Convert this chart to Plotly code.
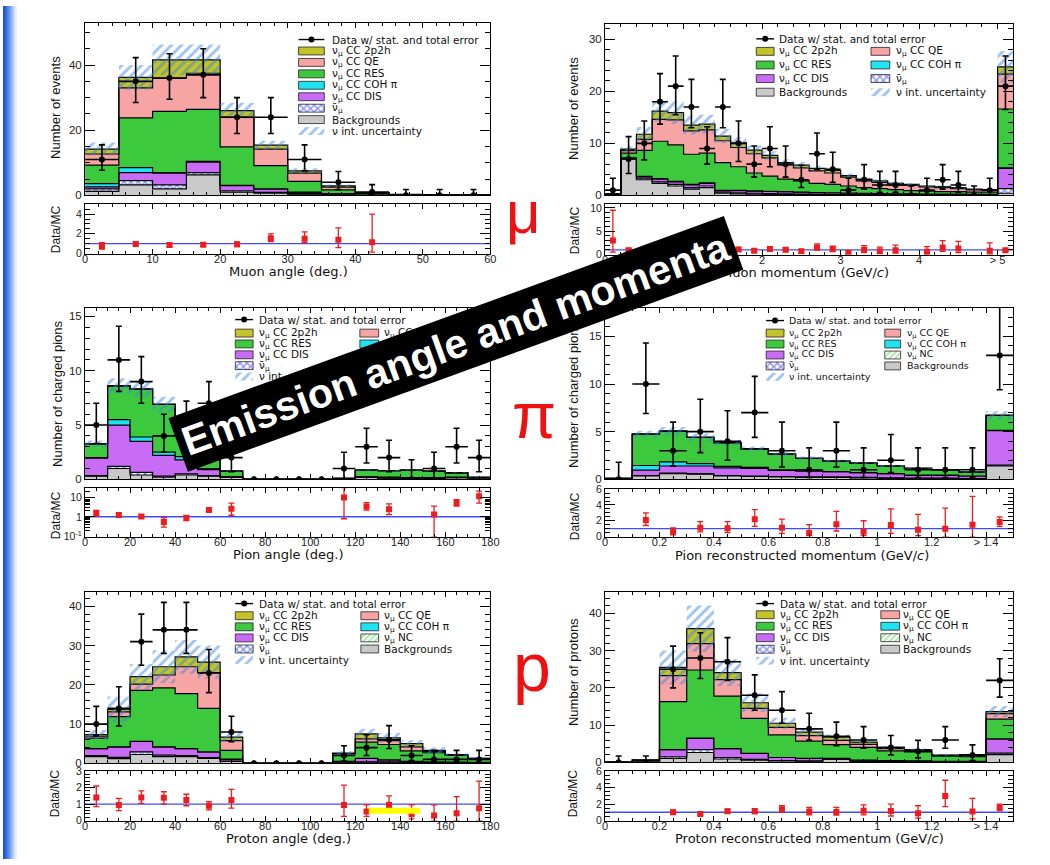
import plotly.graph_objects as go

W, H = 1050, 865

# ====================== DATA ======================
# ---- Panel 1: muon angle (deg.) ----
MUANG_EDGES = [0, 5, 10, 15, 20, 25, 30, 35, 40, 45, 50, 55, 60]
MUANG_BKG  = [1.2, 3.2, 2.0, 6.3, 1.0, 0.7, 0.4, 0.1, 0.05, 0, 0, 0]
MUANG_ANU  = [0.8, 1.3, 1.2, 0.7, 0.4, 0.2, 0.1, 0.05, 0, 0, 0, 0]
MUANG_DIS  = [0.6, 2.5, 3.6, 3.2, 1.6, 1.1, 0.5, 0.35, 0.05, 0.05, 0, 0]
MUANG_COH  = [1.0, 1.5, 0.2, 0.2, 0.1, 0, 0, 0, 0, 0, 0, 0]
MUANG_RES  = [5.7, 15.3, 18.8, 16.0, 11.8, 7.1, 3.3, 1.2, 0.4, 0.1, 0.05, 0.02]
MUANG_QE   = [3.4, 9.2, 10.2, 11.1, 9.1, 5.1, 2.5, 0.8, 0.25, 0.1, 0.05, 0.03]
MUANG_2P2H = [1.5, 3.2, 5.6, 4.1, 2.0, 1.2, 0.7, 0.4, 0.1, 0.05, 0.02, 0.01]
MUANG_UNC  = [2.0, 3.8, 4.7, 4.7, 2.4, 1.4, 0.8, 0.4, 0.1, 0.05, 0.02, 0.01]
MUANG_DATA = [11, 35, 36, 37, 24, 24, 11, 4, 1, 0, 0, 0]
MUANG_DLO  = [7.7, 28.5, 29.5, 30, 19, 19, 7.5, 1.8, 0, 0, 0, 0]
MUANG_DHI  = [15.5, 42.3, 43.5, 45, 30, 30, 15.5, 7.3, 3.3, 1.8, 1.8, 1.8]
MUANG_RAT  = [0.75, 0.97, 0.87, 0.9, 0.93, 1.55, 1.5, 1.4, 1.15, None, None, None]
MUANG_RLO  = [0.45, 0.75, 0.7, 0.72, 0.7, 1.2, 1.1, 0.6, 0.15, None, None, None]
MUANG_RHI  = [1.1, 1.2, 1.05, 1.1, 1.15, 2.0, 2.2, 2.6, 4.0, None, None, None]

# ---- Panel 2: muon momentum (GeV/c), last bin = overflow ----
MUMOM_EDGES = [0, 0.2, 0.4, 0.6, 0.8, 1.0, 1.2, 1.4, 1.6, 1.8, 2.0, 2.2, 2.4, 2.6,
               2.8, 3.0, 3.2, 3.4, 3.6, 3.8, 4.0, 4.2, 4.4, 4.6, 4.8, 5.0, 5.2]
MUMOM_BKG  = [0.1, 7.0, 3.0, 2.3, 1.8, 1.2, 1.5, 0.4, 0.3, 0.25, 0.2, 0.2, 0.15, 0.15,
              0.1, 0.1, 0.1, 0.1, 0.05, 0.05, 0.05, 0.05, 0.05, 0.05, 0.05, 0.4]
MUMOM_ANU  = [0.05, 0.1, 0.3, 0.3, 0.3, 0.3, 0.3, 0.2, 0.2, 0.15, 0.15, 0.1, 0.1, 0.1,
              0.1, 0.1, 0.05, 0.05, 0.05, 0.05, 0.05, 0.05, 0.05, 0.05, 0.05, 0.9]
MUMOM_DIS  = [0.05, 0.1, 0.3, 0.5, 0.5, 0.5, 0.5, 0.3, 0.4, 0.4, 0.4, 0.4, 0.35, 0.3,
              0.3, 0.25, 0.25, 0.2, 0.2, 0.2, 0.15, 0.15, 0.15, 0.1, 0.1, 3.9]
MUMOM_COH  = [0, 0, 0.05, 0.1, 0.1, 0.1, 0.1, 0.05, 0.05, 0.05, 0, 0, 0, 0,
              0, 0, 0, 0, 0, 0, 0, 0, 0, 0, 0, 0.1]
MUMOM_RES  = [0.1, 0.9, 5.0, 7.2, 7.0, 5.8, 5.7, 5.35, 4.55, 3.45, 2.95, 2.4, 2.2, 1.75,
              1.6, 1.35, 1.1, 0.95, 0.8, 0.6, 0.55, 0.45, 0.45, 0.4, 0.4, 11.3]
MUMOM_QE   = [0.03, 0.5, 2.1, 4.2, 4.8, 4.5, 4.5, 4.2, 3.7, 3.7, 3.5, 2.7, 2.5, 2.4,
              2.2, 1.7, 1.3, 1.2, 0.9, 1.0, 0.8, 0.8, 0.6, 0.45, 0.4, 6.7]
MUMOM_2P2H = [0.02, 0.3, 1.0, 1.6, 1.4, 1.1, 1.1, 0.9, 0.9, 0.7, 0.5, 0.5, 0.5, 0.5,
              0.5, 0.3, 0.3, 0.3, 0.3, 0.2, 0.2, 0.2, 0.2, 0.15, 0.1, 1.4]
MUMOM_UNC  = [0.05, 0.5, 1.4, 2.0, 2.2, 1.8, 1.8, 1.4, 1.1, 0.9, 0.8, 0.7, 0.6, 0.5,
              0.5, 0.4, 0.35, 0.3, 0.25, 0.25, 0.2, 0.2, 0.2, 0.15, 0.15, 3.0]
MUMOM_DATA = [1, 7, 10, 18, 21, 17, 9, 17, 10, 6, 9, 6, 3, 8, 5, 1, 3, 2, 2, 0, 1, 3, 2, 0, 1, 21]
MUMOM_DLO  = [0, 4.2, 6.8, 13.7, 15.5, 13, 6, 13, 6.5, 3.5, 5.5, 3.5, 1.5, 5, 2.5, 0, 1.2,
              0.6, 0.6, 0, 0, 1.2, 0.6, 0, 0, 16.5]
MUMOM_DHI  = [3.3, 11.3, 14.3, 23.4, 26.8, 22.3, 13.2, 22.3, 14.3, 9.5, 13.2, 9.5, 5.8, 12,
              8.3, 3.3, 5.9, 4.6, 4.6, 1.8, 3.3, 5.9, 4.6, 1.8, 3.3, 26.8]
MUMOM_RAT  = [3.0, 0.9, 0.9, 1.1, 1.3, 1.25, 0.65, 1.5, 1.1, 0.8, 1.2, 1.0, 0.7, 1.5, 1.2,
              0.3, 1.0, 0.7, 0.9, None, 0.6, 1.5, 1.3, None, 0.8, 0.9]
MUMOM_RLO  = [0.5, 0.55, 0.6, 0.8, 0.95, 0.9, 0.45, 1.1, 0.7, 0.5, 0.75, 0.6, 0.3, 0.95, 0.65,
              0.05, 0.4, 0.2, 0.3, None, 0.05, 0.7, 0.4, None, 0.05, 0.7]
MUMOM_RHI  = [9.5, 1.3, 1.3, 1.4, 1.7, 1.6, 0.95, 2.0, 1.5, 1.1, 1.6, 1.4, 1.1, 2.3, 1.8,
              0.9, 1.9, 1.6, 2.0, None, 1.7, 3.0, 2.8, None, 2.5, 1.1]

# ---- Panel 3: pion angle (deg.) ----
PIANG_EDGES = [0, 10, 20, 30, 40, 50, 60, 70, 80, 90, 100, 110, 120, 130, 140, 150, 160, 170, 180]
PIANG_BKG  = [0.3, 1.0, 0.4, 0.2, 0.4, 0.3, 0.2, 0, 0, 0, 0, 0.02, 0.2, 0.1, 0.1, 0.1, 0.15, 0.05]
PIANG_ANU  = [0.05, 0.2, 0.25, 0.1, 0.1, 0.05, 0, 0, 0, 0, 0, 0, 0, 0, 0, 0, 0, 0]
PIANG_DIS  = [1.6, 3.8, 2.85, 1.9, 1.3, 0.55, 0.05, 0, 0, 0, 0, 0, 0.05, 0.1, 0.05, 0.05, 0.05, 0]
PIANG_COH  = [0.05, 0.5, 0.4, 0.3, 0.3, 0.1, 0, 0, 0, 0, 0, 0, 0, 0, 0, 0, 0, 0]
PIANG_RES  = [1.27, 3.1, 4.4, 4.4, 3.2, 2.2, 0.5, 0, 0, 0, 0, 0.08, 0.6, 0.6, 0.7, 0.6, 0.4, 0.13]
PIANG_QE   = [0] * 18
PIANG_2P2H = [0] * 18
PIANG_UNC  = [0.3, 0.7, 0.7, 0.7, 0.5, 0.3, 0.05, 0, 0, 0, 0, 0.01, 0.05, 0.05, 0.05, 0.05, 0.05, 0.02]
PIANG_DATA = [5, 11, 9, 4, 5, 7, 2, 0, 0, 0, 0, 1, 3, 2, 0, 1, 3, 2]
PIANG_DLO  = [3.3, 8.1, 7.0, 2.5, 2.6, 4.4, 0.7, 0, 0, 0, 0, 0, 1.5, 0.7, 0, 0, 1.5, 0.7]
PIANG_DHI  = [7.0, 14.1, 11.3, 6.0, 7.2, 9.0, 3.9, 0, 0, 0, 0, 2.5, 4.7, 3.6, 1.8, 2.5, 4.7, 3.6]
PIANG_RAT  = [1.5, 1.25, 1.05, 0.55, 0.9, 2.2, 2.6, None, None, None, None, 9.5, 3.3, 2.4, None, 1.3, 5.0, 11.0]
PIANG_RLO  = [1.1, 1.0, 0.85, 0.3, 0.65, 1.8, 1.2, None, None, None, None, 0.8, 2.2, 1.3, None, 0.1, 3.5, 5.0]
PIANG_RHI  = [2.1, 1.5, 1.25, 0.9, 1.15, 2.6, 5.0, None, None, None, None, 30, 5.3, 4.5, None, 3.5, 7.5, 20]

# ---- Panel 4: pion reconstructed momentum (GeV/c), last bin = overflow ----
PIMOM_EDGES = [0, 0.1, 0.2, 0.3, 0.4, 0.5, 0.6, 0.7, 0.8, 0.9, 1.0, 1.1, 1.2, 1.3, 1.4, 1.5]
PIMOM_BKG  = [0, 0.35, 0.6, 0.55, 0.35, 0.3, 0.25, 0.2, 0.2, 0.15, 0.1, 0.1, 0.1, 0.05, 1.4]
PIMOM_ANU  = [0, 0.05, 0.05, 0.05, 0.05, 0.05, 0.05, 0.05, 0.05, 0.05, 0.05, 0.02, 0.02, 0.02, 0.1]
PIMOM_DIS  = [0, 0.57, 0.75, 0.8, 0.8, 0.8, 0.65, 0.6, 0.55, 0.5, 0.45, 0.33, 0.33, 0.28, 3.6]
PIMOM_COH  = [0, 0.48, 0.43, 0.25, 0.15, 0.1, 0.05, 0.05, 0, 0, 0, 0, 0, 0, 0.05]
PIMOM_RES  = [0.1, 3.3, 3.22, 2.75, 2.5, 1.95, 1.65, 1.3, 1.1, 1.0, 0.8, 0.7, 0.55, 0.4, 1.55]
PIMOM_QE   = [0] * 15
PIMOM_2P2H = [0] * 15
PIMOM_UNC  = [0.02, 0.35, 0.45, 0.4, 0.3, 0.25, 0.2, 0.2, 0.15, 0.1, 0.1, 0.08, 0.08, 0.06, 0.45]
PIMOM_DATA = [0, 10, 3, 5, 4, 7, 3, 1, 3, 1, 2, 1, 1, 1, 13]
PIMOM_DLO  = [0, 6.9, 1.4, 2.8, 2.0, 4.4, 1.3, 0.2, 1.3, 0.2, 0.7, 0.2, 0.2, 0.2, 9.4]
PIMOM_DHI  = [1.8, 14.3, 6.0, 8.4, 7.2, 10.8, 6.0, 3.3, 6.0, 3.3, 4.7, 3.3, 3.3, 3.3, 18.5]
PIMOM_RAT  = [None, 2.1, 0.6, 1.1, 1.05, 2.2, 1.1, 0.45, 1.55, 0.6, 1.45, 0.85, 1.0, 1.5, 1.85]
PIMOM_RLO  = [None, 1.4, 0.2, 0.6, 0.5, 1.3, 0.4, 0.1, 0.7, 0.1, 0.4, 0.1, 0.0, 0.0, 1.3]
PIMOM_RHI  = [None, 3.0, 1.1, 1.9, 1.9, 3.4, 2.2, 1.5, 3.2, 2.0, 3.5, 2.8, 3.6, 5.1, 2.5]

# ---- Panel 5: proton angle (deg.) ----
PRANG_EDGES = [0, 10, 20, 30, 40, 50, 60, 70, 80, 90, 100, 110, 120, 130, 140, 150, 160, 170, 180]
PRANG_BKG  = [1.7, 1.2, 2.25, 1.7, 1.7, 1.25, 0.5, 0, 0, 0, 0, 0.3, 0.3, 0.3, 0.2, 0.1, 0.1, 0.1]
PRANG_ANU  = [0.3, 0.3, 0.65, 0.4, 0.3, 0.2, 0.1, 0, 0, 0, 0, 0, 0.1, 0.05, 0.05, 0.05, 0.05, 0.05]
PRANG_DIS  = [1.75, 2.7, 2.7, 2.1, 1.75, 1.45, 0.5, 0, 0, 0, 0, 0.2, 0.85, 0.55, 0.25, 0.2, 0.15, 0.1]
PRANG_COH  = [0] * 18
PRANG_RES  = [2.65, 7.7, 13.0, 15.0, 14.0, 11.1, 2.2, 0, 0, 0, 0, 2.0, 4.15, 3.9, 2.7, 2.35, 1.7, 0.95]
PRANG_QE   = [0.5, 1.2, 1.6, 3.3, 6.85, 9.1, 2.5, 0, 0, 0, 0, 0, 0.85, 1.0, 1.0, 0.3, 0.1, 0.05]
PRANG_2P2H = [0.4, 0.65, 1.9, 2.1, 2.5, 2.7, 0.9, 0, 0, 0, 0, 0.1, 1.25, 0.7, 0.8, 0.3, 0.1, 0.05]
PRANG_UNC  = [1.2, 3.3, 3.2, 4.2, 4.3, 4.2, 1.2, 0, 0, 0, 0, 0.5, 1.3, 1.2, 0.9, 0.8, 0.4, 0.2]
PRANG_DATA = [10, 14, 31, 34, 34, 23, 8, 0, 0, 0, 0, 2, 4, 6, 2, 1, 1, 1]
PRANG_DLO  = [7, 9.5, 25, 28, 28, 18, 5.5, 0, 0, 0, 0, 0.6, 2.0, 3.8, 0.7, 0.2, 0.2, 0.2]
PRANG_DHI  = [14.5, 19.5, 38, 41, 41, 29, 12, 0, 0, 0, 0, 4.5, 7.3, 9.6, 4.5, 3.3, 3.3, 3.3]
PRANG_RAT  = [1.4, 0.95, 1.4, 1.38, 1.25, 0.9, 1.25, None, None, None, None, 0.95, 0.55, 0.95, 0.4, 0.3, 0.45, 0.75]
PRANG_RLO  = [0.85, 0.6, 1.05, 1.0, 0.9, 0.65, 0.75, None, None, None, None, 0.25, 0.25, 0.55, 0.1, 0.0, 0.0, 0.0]
PRANG_RHI  = [2.1, 1.35, 1.8, 1.75, 1.6, 1.15, 1.9, None, None, None, None, 2.15, 0.95, 1.5, 0.95, 0.95, 1.45, 2.4]

# ---- Panel 6: proton reconstructed momentum (GeV/c), last bin = overflow ----
PRMOM_EDGES = [0, 0.1, 0.2, 0.3, 0.4, 0.5, 0.6, 0.7, 0.8, 0.9, 1.0, 1.1, 1.2, 1.3, 1.4, 1.5]
PRMOM_BKG  = [0, 0, 1.05, 2.65, 0.9, 0.6, 0.4, 0.3, 0.8, 0.2, 0.15, 0.1, 0.1, 0.1, 2.1]
PRMOM_ANU  = [0, 0, 0.45, 0.75, 0.4, 0.2, 0.1, 0.1, 0.05, 0.05, 0.05, 0.05, 0.05, 0.05, 0.4]
PRMOM_DIS  = [0, 0.05, 1.9, 3.1, 2.4, 1.6, 0.8, 0.65, 0.2, 0.35, 0.3, 0.25, 0.15, 0.15, 3.8]
PRMOM_COH  = [0] * 15
PRMOM_RES  = [0, 0.55, 12.9, 18.3, 14.1, 9.4, 6.1, 4.65, 3.7, 3.4, 2.6, 2.4, 1.4, 1.2, 5.3]
PRMOM_QE   = [0, 0, 7.0, 7.1, 4.4, 2.7, 2.0, 1.5, 1.15, 0.85, 0.6, 0.4, 0.15, 0.2, 1.5]
PRMOM_2P2H = [0, 0, 2.2, 4.0, 1.9, 1.5, 1.1, 0.9, 0.9, 0.6, 0.3, 0.2, 0.1, 0.1, 0.5]
PRMOM_UNC  = [0, 0.05, 4.5, 6.2, 3.6, 2.5, 1.5, 1.1, 0.7, 0.6, 0.4, 0.3, 0.2, 0.2, 1.5]
PRMOM_DATA = [0, 0, 25, 28, 27, 18, 14, 9, 7, 6, 4, 3, 6, 2, 22]
PRMOM_DLO  = [0, 0, 20, 22.5, 22, 14, 10.5, 6, 4.5, 3.8, 2, 1.2, 3.8, 0.5, 17.5]
PRMOM_DHI  = [1.7, 1.7, 31.2, 34.8, 33.5, 23.5, 19, 13.2, 10.8, 9.6, 7.2, 5.9, 9.6, 4.7, 27.8]
PRMOM_RAT  = [None, None, 1.0, 0.8, 1.12, 1.12, 1.35, 1.1, 1.05, 1.2, 1.15, 0.9, 3.0, 1.1, 1.6]
PRMOM_RLO  = [None, None, 0.75, 0.65, 0.9, 0.85, 1.0, 0.7, 0.65, 0.7, 0.55, 0.3, 1.7, 0.2, 1.2]
PRMOM_RHI  = [None, None, 1.25, 0.95, 1.4, 1.45, 1.8, 1.6, 1.6, 1.9, 2.0, 1.8, 4.9, 2.7, 2.0]

# ================== table built from the arrays ==================
PANELS = [
    dict(edges=MUANG_EDGES, comps=[MUANG_BKG, MUANG_ANU, MUANG_DIS, MUANG_COH, MUANG_RES, MUANG_QE, MUANG_2P2H],
         unc=MUANG_UNC, data=MUANG_DATA, dlo=MUANG_DLO, dhi=MUANG_DHI, rat=MUANG_RAT, rlo=MUANG_RLO, rhi=MUANG_RHI),
    dict(edges=MUMOM_EDGES, comps=[MUMOM_BKG, MUMOM_ANU, MUMOM_DIS, MUMOM_COH, MUMOM_RES, MUMOM_QE, MUMOM_2P2H],
         unc=MUMOM_UNC, data=MUMOM_DATA, dlo=MUMOM_DLO, dhi=MUMOM_DHI, rat=MUMOM_RAT, rlo=MUMOM_RLO, rhi=MUMOM_RHI),
    dict(edges=PIANG_EDGES, comps=[PIANG_BKG, PIANG_ANU, PIANG_DIS, PIANG_COH, PIANG_RES, PIANG_QE, PIANG_2P2H],
         unc=PIANG_UNC, data=PIANG_DATA, dlo=PIANG_DLO, dhi=PIANG_DHI, rat=PIANG_RAT, rlo=PIANG_RLO, rhi=PIANG_RHI),
    dict(edges=PIMOM_EDGES, comps=[PIMOM_BKG, PIMOM_ANU, PIMOM_DIS, PIMOM_COH, PIMOM_RES, PIMOM_QE, PIMOM_2P2H],
         unc=PIMOM_UNC, data=PIMOM_DATA, dlo=PIMOM_DLO, dhi=PIMOM_DHI, rat=PIMOM_RAT, rlo=PIMOM_RLO, rhi=PIMOM_RHI),
    dict(edges=PRANG_EDGES, comps=[PRANG_BKG, PRANG_ANU, PRANG_DIS, PRANG_COH, PRANG_RES, PRANG_QE, PRANG_2P2H],
         unc=PRANG_UNC, data=PRANG_DATA, dlo=PRANG_DLO, dhi=PRANG_DHI, rat=PRANG_RAT, rlo=PRANG_RLO, rhi=PRANG_RHI),
    dict(edges=PRMOM_EDGES, comps=[PRMOM_BKG, PRMOM_ANU, PRMOM_DIS, PRMOM_COH, PRMOM_RES, PRMOM_QE, PRMOM_2P2H],
         unc=PRMOM_UNC, data=PRMOM_DATA, dlo=PRMOM_DLO, dhi=PRMOM_DHI, rat=PRMOM_RAT, rlo=PRMOM_RLO, rhi=PRMOM_RHI),
]

MOM_TICKS = [0, 0.2, 0.4, 0.6, 0.8, 1.0, 1.2, 1.4]
MOM_TEXT = ["0", "0.2", "0.4", "0.6", "0.8", "1", "1.2", "> 1.4"]

# ================== layout specs (pixel frames) ==================
SPEC = [
    dict(main=(83, 493, 17, 192), rat=(83, 493, 201, 251), xr=[0, 60], yr=[0, 53], rr=[0, 5],
         xdt=10, xmin=2, ydt=20, ymin=5, rdt=2, rmin=0.5, log=False, xt=None),
    dict(main=(609, 1022, 18, 192), rat=(609, 1022, 201, 252), xr=[0, 5.2], yr=[0, 33], rr=[0, 10.8],
         xdt=1, xmin=0.2, ydt=10, ymin=2, rdt=5, rmin=1, log=False,
         xt=([0, 1, 2, 3, 4, 5], ["0", "1", "2", "3", "4", "> 5"])),
    dict(main=(83, 493, 306, 480), rat=(83, 493, 489, 538), xr=[0, 180], yr=[0, 15.8], rr=[-1, 1.45],
         xdt=20, xmin=5, ydt=5, ymin=1, rdt=None, rmin=None, log=True, xt=None),
    dict(main=(609, 1022, 306, 480), rat=(609, 1022, 490, 538), xr=[0, 1.5], yr=[0, 18], rr=[0, 6],
         xdt=0.2, xmin=0.05, ydt=5, ymin=1, rdt=2, rmin=0.5, log=False, xt=(MOM_TICKS, MOM_TEXT)),
    dict(main=(83, 493, 594, 768), rat=(83, 493, 776, 826), xr=[0, 180], yr=[0, 43.7], rr=[0, 3],
         xdt=20, xmin=5, ydt=10, ymin=2, rdt=1, rmin=0.2, log=False, xt=None),
    dict(main=(609, 1022, 594, 767), rat=(609, 1022, 776, 826), xr=[0, 1.5], yr=[0, 45.8], rr=[0, 6],
         xdt=0.2, xmin=0.05, ydt=10, ymin=2, rdt=2, rmin=0.5, log=False, xt=(MOM_TICKS, MOM_TEXT)),
]

TICKFONT = "Liberation Sans, Arial, sans-serif"
TEXTFONT = "DejaVu Sans, Liberation Sans, sans-serif"
YTFONT = "Liberation Sans Narrow, Liberation Sans, Arial, sans-serif"

COLORS = dict(bkg="#c9c9c9", anu="white", dis="#c86cf5", coh="#1fe3f0",
              res="#3dc93d", qe="#f7a4a4", p2h="#c3c32a", nc="#b6e8b6")
ANU_PAT = dict(shape="x", fgcolor="#1f2ff5", bgcolor="white", size=5, solidity=0.5)
UNC_PAT = dict(shape="/", fgcolor="#3d85e0", bgcolor="rgba(0,0,0,0)", size=7, solidity=0.42)
NC_PAT = dict(shape="/", fgcolor="#3dc93d", bgcolor="white", size=4, solidity=0.4)
LAYER_KEYS = ["bkg", "anu", "dis", "coh", "res", "qe", "p2h"]


def dom_x(x0, x1):
    return [x0 / W, x1 / W]


def dom_y(y0, y1):
    return [1 - y1 / H, 1 - y0 / H]


def axname(n, kind):
    return kind if n == 1 else f"{kind}{n}"


fig = go.Figure()
layout = {}

for i, (P, S) in enumerate(zip(PANELS, SPEC)):
    m = i + 1
    r = i + 7
    xa, ya = axname(m, "x"), axname(m, "y")
    rxa, rya = axname(r, "x"), axname(r, "y")
    edges = P["edges"]
    nb = len(edges) - 1
    centers = [(edges[k] + edges[k + 1]) / 2 for k in range(nb)]
    halfw = [(edges[k + 1] - edges[k]) / 2 for k in range(nb)]

    # stacked step histogram
    cum = [0.0] * nb
    for k, comp in enumerate(P["comps"]):
        cum = [c + v for c, v in zip(cum, comp)]
        key = LAYER_KEYS[k]
        kw = dict(fillcolor=COLORS[key])
        if key == "anu":
            kw["fillpattern"] = ANU_PAT
        fig.add_trace(go.Scatter(
            x=edges, y=cum + [cum[-1]], mode="lines",
            line=dict(color="black", width=1.2, shape="hv"),
            fill="tozeroy" if k == 0 else "tonexty",
            xaxis=xa, yaxis=ya, showlegend=False, hoverinfo="skip", **kw))
    total = cum
    blo = [max(t - u, 0) for t, u in zip(total, P["unc"])]
    bhi = [t + u for t, u in zip(total, P["unc"])]
    fig.add_trace(go.Scatter(x=edges, y=blo + [blo[-1]], mode="lines",
                             line=dict(width=0, shape="hv", color="rgba(0,0,0,0)"),
                             xaxis=xa, yaxis=ya, showlegend=False, hoverinfo="skip"))
    fig.add_trace(go.Scatter(x=edges, y=bhi + [bhi[-1]], mode="lines",
                             line=dict(width=0, shape="hv", color="rgba(0,0,0,0)"),
                             fill="tonexty", fillcolor="rgba(0,0,0,0)", fillpattern=UNC_PAT,
                             xaxis=xa, yaxis=ya, showlegend=False, hoverinfo="skip"))

    # data points
    d = P["data"]
    eup = [h - v for h, v in zip(P["dhi"], d)]
    edn = [v - l for v, l in zip(d, P["dlo"])]
    exw = [hw if h > 0 else 0 for hw, h in zip(halfw, P["dhi"])]
    fig.add_trace(go.Scatter(
        x=centers, y=d, mode="markers", marker=dict(color="black", size=6),
        error_y=dict(type="data", symmetric=False, array=eup, arrayminus=edn,
                     color="black", thickness=1.6, width=3),
        error_x=dict(type="data", array=exw, color="black", thickness=1.6, width=0),
        xaxis=xa, yaxis=ya, showlegend=False, hoverinfo="skip", cliponaxis=True))

    # ratio
    rx, ry, rup, rdn = [], [], [], []
    for c, v, lo, hi in zip(centers, P["rat"], P["rlo"], P["rhi"]):
        if v is None:
            continue
        rx.append(c)
        ry.append(v)
        rup.append(hi - v)
        rdn.append(v - lo)
    fig.add_trace(go.Scatter(x=[edges[0], edges[-1]], y=[1, 1], mode="lines",
                             line=dict(color="#3b4cff", width=1.4),
                             xaxis=rxa, yaxis=rya, showlegend=False, hoverinfo="skip"))
    fig.add_trace(go.Scatter(
        x=rx, y=ry, mode="markers", marker=dict(color="#ee1c1c", size=6, symbol="square"),
        error_y=dict(type="data", symmetric=False, array=rup, arrayminus=rdn,
                     color="#ee1c1c", thickness=1.3, width=3),
        xaxis=rxa, yaxis=rya, showlegend=False, hoverinfo="skip"))

    # axes
    base = dict(showline=True, linecolor="black", linewidth=1, mirror="allticks",
                ticks="inside", tickcolor="black", showgrid=False, zeroline=False,
                tickfont=dict(family=TICKFONT, size=11.5, color="#222"), fixedrange=True)
    mx0, mx1, my0, my1 = S["main"]
    qx0, qx1, qy0, qy1 = S["rat"]
    xmain = dict(base, domain=dom_x(mx0, mx1), range=S["xr"], anchor=ya, ticklen=5,
                 showticklabels=False, dtick=S["xdt"], tick0=0,
                 minor=dict(ticks="inside", ticklen=3, dtick=S["xmin"], tick0=0, tickcolor="black"))
    ymain = dict(base, domain=dom_y(my0, my1), range=S["yr"], anchor=xa, ticklen=10,
                 dtick=S["ydt"], tick0=0,
                 minor=dict(ticks="inside", ticklen=5, dtick=S["ymin"], tick0=0, tickcolor="black"))
    xrat = dict(base, domain=dom_x(qx0, qx1), range=S["xr"], anchor=rya, ticklen=5,
                dtick=S["xdt"], tick0=0, ticklabelstandoff=-5,
                tickfont=dict(family=TICKFONT, size=11, color="#222"),
                minor=dict(ticks="inside", ticklen=3, dtick=S["xmin"], tick0=0, tickcolor="black"))
    if S["xt"] is not None:
        xmain.pop("dtick"); xrat.pop("dtick")
        xmain.update(tickmode="array", tickvals=S["xt"][0])
        xrat.update(tickmode="array", tickvals=S["xt"][0], ticktext=S["xt"][1])
    rfont = dict(family=TICKFONT, size=10.5, color="#222")
    if S["log"]:
        yrat = dict(base, domain=dom_y(qy0, qy1), type="log", range=S["rr"], anchor=rxa,
                    ticklen=10, tickmode="array", tickvals=[0.1, 1, 10], tickfont=rfont,
                    ticktext=["10<sup>-1</sup>", "1", "10"],
                    minor=dict(ticks="inside", ticklen=5, dtick="D1", tickcolor="black"))
    else:
        yrat = dict(base, domain=dom_y(qy0, qy1), range=S["rr"], anchor=rxa, ticklen=10,
                    dtick=S["rdt"], tick0=0, tickfont=rfont,
                    minor=dict(ticks="inside", ticklen=5, dtick=S["rmin"], tick0=0, tickcolor="black"))
    layout[axname(m, "xaxis")] = xmain
    layout[axname(m, "yaxis")] = ymain
    layout[axname(r, "xaxis")] = xrat
    layout[axname(r, "yaxis")] = yrat

# overlay axis in pixel coordinates for decorations / legends
layout["xaxis13"] = dict(domain=[0, 1], range=[0, W], visible=False, anchor="y13", fixedrange=True)
layout["yaxis13"] = dict(domain=[0, 1], range=[H, 0], visible=False, anchor="x13", fixedrange=True)

annotations = []
shapes = []


def txt(x, y, s, size=11.5, family=TEXTFONT, color="#111", xanchor="left", angle=0, **kw):
    annotations.append(dict(x=x, y=y, xref="x13", yref="y13", text=s, showarrow=False,
                            xanchor=xanchor, yanchor="middle", textangle=angle,
                            font=dict(family=family, size=size, color=color), **kw))


LABELS = dict(
    data="Data w/ stat. and total error",
    p2h="ν<sub>μ</sub> CC 2p2h", qe="ν<sub>μ</sub> CC QE", res="ν<sub>μ</sub> CC RES",
    coh="ν<sub>μ</sub> CC COH π", dis="ν<sub>μ</sub> CC DIS", anu="ν̄<sub>μ</sub>",
    bkg="Backgrounds", nc="ν<sub>μ</sub> NC", unc="ν int. uncertainty")


def swatch(kind, bx0, bx1, yc, tx, fs):
    if kind == "data":
        fig.add_trace(go.Scatter(x=[bx0, bx1], y=[yc, yc], mode="lines",
                                 line=dict(color="black", width=1.4),
                                 xaxis="x13", yaxis="y13", showlegend=False, hoverinfo="skip"))
        fig.add_trace(go.Scatter(x=[(bx0 + bx1) / 2], y=[yc], mode="markers",
                                 marker=dict(color="black", size=6),
                                 xaxis="x13", yaxis="y13", showlegend=False, hoverinfo="skip"))
    else:
        y0, y1 = yc - 4, yc + 4
        kw = dict(fillcolor=COLORS.get(kind, "rgba(0,0,0,0)"))
        line = dict(color="#222", width=0.8)
        if kind == "anu":
            kw["fillpattern"] = ANU_PAT
        if kind == "nc":
            kw["fillpattern"] = NC_PAT
        if kind == "unc":
            kw = dict(fillcolor="rgba(0,0,0,0)", fillpattern=UNC_PAT)
            line = dict(width=0, color="rgba(0,0,0,0)")
        fig.add_trace(go.Scatter(x=[bx0, bx1, bx1, bx0, bx0], y=[y0, y0, y1, y1, y0],
                                 mode="lines", fill="toself", line=line,
                                 xaxis="x13", yaxis="y13", showlegend=False, hoverinfo="skip", **kw))
    txt(tx, yc, LABELS[kind], size=fs)


# Legend panel 1 (single column)
for k, kind in enumerate(["data", "p2h", "qe", "res", "coh", "dis", "anu", "bkg", "unc"]):
    swatch(kind, 299, 325, 34 + 11.6 * k, 331, 10.5)

# Legends with two columns
LEG2 = [
    dict(dy0=33.3, r0=46, dr=13.8, c1=(762, 780, 783), c2=(878, 897, 901), fs=10.5,
         col1=["p2h", "res", "dis", "bkg"], col2=["qe", "coh", "anu", "unc"]),
    dict(dy0=318, r0=331.7, dr=11.0, c1=(235, 253, 257), c2=(361, 380, 383), fs=10.5,
         col1=["p2h", "res", "dis", "anu", "unc"], col2=["qe", "coh", "nc", "bkg"]),
    dict(dy0=319, r0=331.7, dr=11.1, c1=(772, 790, 793), c2=(892, 908, 912), fs=9.5,
         col1=["p2h", "res", "dis", "anu", "unc"], col2=["qe", "coh", "nc", "bkg"]),
    dict(dy0=606, r0=618.3, dr=11.25, c1=(235, 253, 257), c2=(362, 380, 383), fs=10.5,
         col1=["p2h", "res", "dis", "anu", "unc"], col2=["qe", "coh", "nc", "bkg"]),
    dict(dy0=606, r0=617.3, dr=11.65, c1=(762, 780, 784), c2=(888, 907, 908), fs=10.5,
         col1=["p2h", "res", "dis", "anu", "unc"], col2=["qe", "coh", "nc", "bkg"]),
]
for L in LEG2:
    swatch("data", L["c1"][0], L["c1"][1], L["dy0"], L["c1"][2], L["fs"])
    for k, kind in enumerate(L["col1"]):
        swatch(kind, L["c1"][0], L["c1"][1], L["r0"] + L["dr"] * k, L["c1"][2], L["fs"])
    for k, kind in enumerate(L["col2"]):
        swatch(kind, L["c2"][0], L["c2"][1], L["r0"] + L["dr"] * k, L["c2"][2], L["fs"])

# axis titles
for (x, y, s) in [(53, 103, "Number of events"), (577, 104, "Number of events"),
                  (55, 393, "Number of charged pions"), (577, 394, "Number of charged pions"),
                  (577, 675, "Number of protons")]:
    txt(x, y, s, size=13, family=YTFONT, xanchor="center", angle=-90)
for (x, y) in [(53, 226), (578, 227), (53, 516), (578, 517), (53, 798), (577, 798)]:
    txt(x, y, "Data/MC", size=12, family=YTFONT, xanchor="center", angle=-90)
for (x, y, s) in [(289, 269, "Muon angle (deg.)"), (811, 270, "Muon momentum (GeV/<i>c</i>)"),
                  (288, 556, "Pion angle (deg.)"),
                  (808, 557, "Pion reconstructed momentum (GeV/<i>c</i>)"),
                  (289, 844, "Proton angle (deg.)"),
                  (816, 844, "Proton reconstructed momentum (GeV/<i>c</i>)")]:
    txt(x, y, s, size=13, xanchor="center")

# red particle symbols
txt(527, 209, "μ", size=60, family="Liberation Sans, Arial", color="#ee1111", xanchor="center")
txt(537, 416, "π", size=64, family="Liberation Sans, Arial", color="#ee1111", xanchor="center")
txt(535, 670, "p", size=68, family="Liberation Sans, Arial", color="#ee1111", xanchor="center")

# yellow marker bar
shapes.append(dict(type="rect", xref="x13", yref="y13", x0=370, x1=422, y0=813, y1=819,
                   fillcolor="#ffff00", line=dict(width=0), layer="above"))

# left blue slide edge (gradient)
grad = ["#1d56d8", "#2d66de", "#4a7fe4", "#6d98ea", "#95b5f0", "#c0d3f6", "#e6eefb"]
for k, c in enumerate(grad):
    shapes.append(dict(type="rect", xref="x13", yref="y13", x0=k * 2, x1=k * 2 + 2, y0=0, y1=H,
                       fillcolor=c, line=dict(width=0), layer="above"))

# rotated banner (last annotation -> on top)
annotations.append(dict(x=458, y=343, xref="x13", yref="y13",
                        text="<b>Emission angle and momenta</b>", showarrow=False,
                        xanchor="center", yanchor="middle", textangle=-20,
                        font=dict(family="Liberation Sans, Arial", size=41, color="white"),
                        bgcolor="black", borderpad=5))

fig.update_layout(width=W, height=H, margin=dict(l=0, r=0, t=0, b=0),
                  paper_bgcolor="white", plot_bgcolor="rgba(0,0,0,0)",
                  showlegend=False, annotations=annotations, shapes=shapes, **layout)

fig.write_html("out.html", config={"displayModeBar": False},
               post_script="document.body.style.margin='0px';document.body.style.padding='0px';"
                           "document.body.style.overflow='hidden';")
